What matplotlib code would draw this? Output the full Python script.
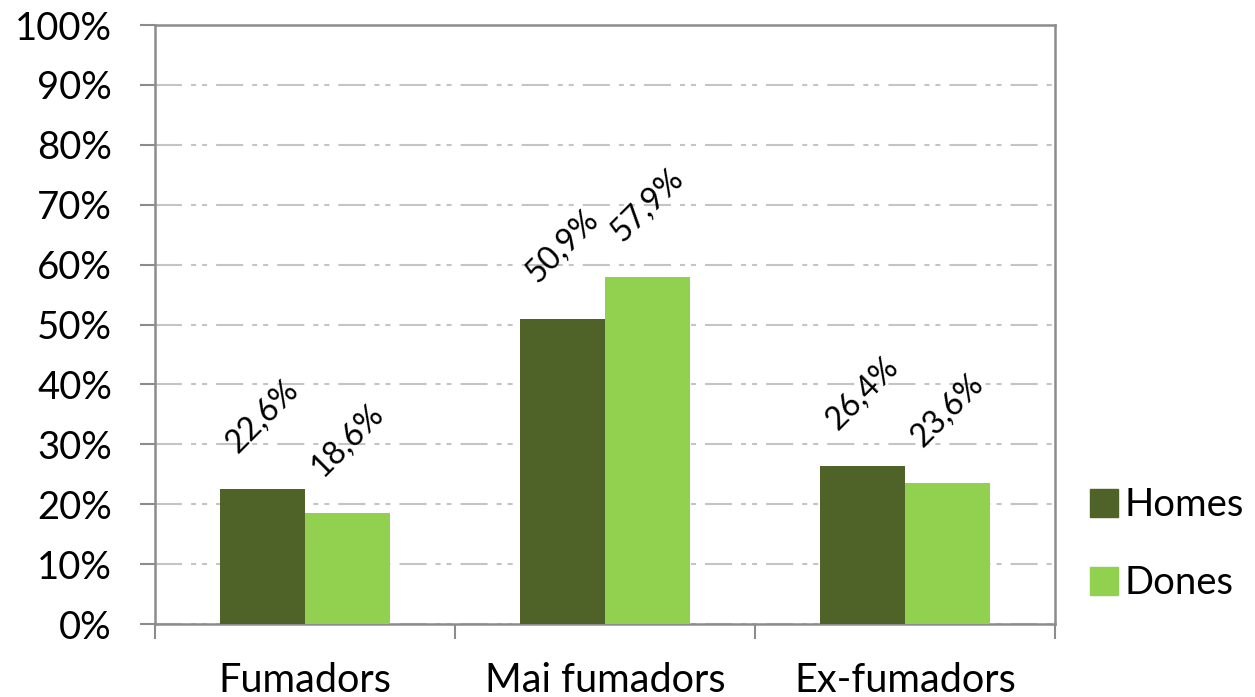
import matplotlib
matplotlib.use("Agg")
import matplotlib.pyplot as plt
from matplotlib.lines import Line2D
import numpy as np

# Data
categories = ["Fumadors", "Mai fumadors", "Ex-fumadors"]
homes = [22.6, 50.9, 26.4]
dones = [18.6, 57.9, 23.6]
series_names = ["Homes", "Dones"]
yticks = [0, 10, 20, 30, 40, 50, 60, 70, 80, 90, 100]

dark_green = "#4F6228"
light_green = "#92D050"
axis_grey = "#8C8C8C"
grid_grey = "#C4C4C4"

plt.rcParams["font.family"] = ["Lato", "DejaVu Sans"]
plt.rcParams["lines.scale_dashes"] = False

fig = plt.figure(figsize=(12.55, 6.97), dpi=100)
ax = fig.add_axes([0.1235, 0.1047, 0.7171, 0.8594])

x = np.arange(len(categories))
width = 0.284
bars_h = ax.bar(x - width / 2, homes, width, color=dark_green, zorder=3)
bars_d = ax.bar(x + width / 2, dones, width, color=light_green, zorder=3)

# rotated data labels with comma decimal
for bars, vals in [(bars_h, homes), (bars_d, dones)]:
    for b, v in zip(bars, vals):
        ax.annotate(f"{v:.1f}%".replace(".", ","),
                    (b.get_x() + b.get_width() / 2, v),
                    xytext=(0, 22), textcoords="offset points",
                    ha="center", va="bottom", rotation=45,
                    fontsize=23, color="black", zorder=4)

ax.set_xlim(-0.5, 2.5)
ax.set_ylim(0, 100)

ax.set_yticks(yticks)
ax.set_yticklabels([f"{t}%" for t in yticks])
ax.tick_params(axis="y", length=11, width=1.5, color=axis_grey, pad=20,
               labelsize=27.5)

# major ticks at category boundaries, labels on minor ticks
ax.set_xticks([-0.5, 0.5, 1.5, 2.5])
ax.set_xticklabels([])
ax.set_xticks(x, minor=True)
ax.set_xticklabels(categories, minor=True)
ax.tick_params(axis="x", which="major", length=11, width=1.5, color=axis_grey)
ax.tick_params(axis="x", which="minor", length=0, pad=27, labelsize=28.5)

ax.yaxis.grid(True, color=grid_grey, linewidth=1.5,
              linestyle=(0, (19.5, 6.5, 3.6, 4.3, 3.6, 6.5)), zorder=0)
ax.set_axisbelow(True)

for s in ax.spines.values():
    s.set_color(axis_grey)
    s.set_linewidth(1.8)

handles = [Line2D([], [], marker="s", linestyle="none", markersize=20,
                  markerfacecolor=c, markeredgecolor=c)
           for c in (dark_green, light_green)]
fig.legend(handles, series_names, loc="center left",
           bbox_to_anchor=(0.852, 0.2195), frameon=False, fontsize=27.5,
           handletextpad=0.05, labelspacing=1.1, handlelength=1.0,
           borderaxespad=0)

fig.savefig("out.png", dpi=100)
